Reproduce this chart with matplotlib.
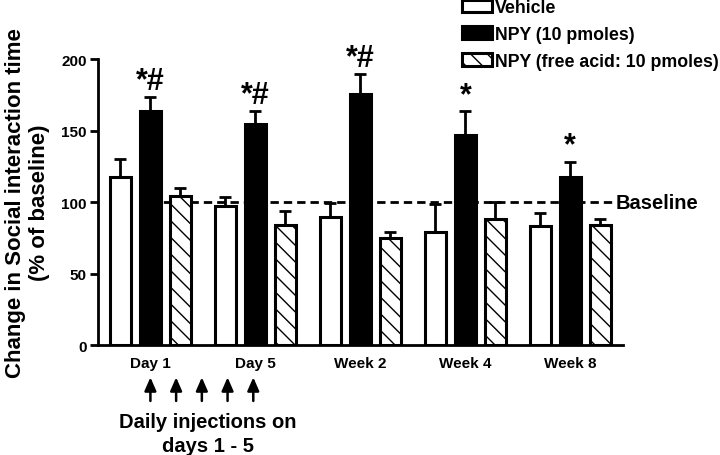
import numpy as np
import matplotlib
matplotlib.use("Agg")
from matplotlib import pyplot as plt
from matplotlib.transforms import blended_transform_factory

plt.rcParams['font.family'] = ['Liberation Sans', 'DejaVu Sans']
plt.rcParams['font.weight'] = 'bold'
plt.rcParams['hatch.linewidth'] = 1.0

# data
groups = ['Day 1', 'Day 5', 'Week 2', 'Week 4', 'Week 8']
series = ['Vehicle', 'NPY (10 pmoles)', 'NPY (free acid: 10 pmoles)']
vehicle = [117.7, 97.0, 89.7, 78.8, 83.4]
vehicle_err = [12.3, 6.7, 9.6, 20.0, 9.1]
npy = [163.8, 154.5, 176.0, 147.0, 117.7]
npy_err = [9.8, 9.1, 13.5, 16.6, 10.5]
free_acid = [104.4, 84.0, 74.6, 87.9, 84.1]
free_acid_err = [5.2, 10.0, 4.2, 12.1, 3.9]
marks = ['*#', '*#', '*#', '*', '*']
baseline = 100
injection_days = [0, 0.245, 0.49, 0.735, 0.98]

fig = plt.figure(figsize=(7.2, 4.56), dpi=100)
ax = fig.add_axes([0.136, 0.241, 0.729, 0.627])

x = np.arange(len(groups))
offset = 0.285
width = 0.2
styles = [dict(color='white', hatch=None),
          dict(color='black', hatch=None),
          dict(color='white', hatch='\\\\')]
values = [vehicle, npy, free_acid]
errors = [vehicle_err, npy_err, free_acid_err]

handles = []
for i in range(3):
    pos = x + (i - 1) * offset
    b = ax.bar(pos, values[i], width, facecolor=styles[i]['color'],
               edgecolor='black', linewidth=2.2, hatch=styles[i]['hatch'],
               zorder=3, label=series[i])
    ax.errorbar(pos, values[i], yerr=[np.zeros(len(groups)), errors[i]],
                fmt='none', ecolor='black', elinewidth=2, capsize=4.5,
                capthick=2, zorder=2)
    handles.append(b)

# significance marks above NPY bars
for xi, v, e, m in zip(x, npy, npy_err, marks):
    ax.text(xi, v + e + 1, m, ha='center', va='bottom', fontsize=22,
            fontweight='bold', clip_on=False)

# baseline
ax.plot([0, 4.41], [baseline, baseline], color='black', lw=2,
        dashes=(3, 1.8), zorder=1, clip_on=False)
ax.text(4.43, baseline, 'Baseline', ha='left', va='center', fontsize=14.5,
        fontweight='bold')

ax.set_xlim(-0.5, 4.5)
ax.set_ylim(0, 200)
ax.set_yticks([0, 50, 100, 150, 200])
ax.set_xticks(x)
ax.set_xticklabels(groups, fontsize=11)
ax.tick_params(axis='y', labelsize=11, width=2, length=6, pad=2)
ax.tick_params(axis='x', length=0, pad=8)
for s in ['top', 'right']:
    ax.spines[s].set_visible(False)
for s in ['left', 'bottom']:
    ax.spines[s].set_linewidth(2)

ax.set_ylabel('Change in Social interaction time\n(% of baseline)',
              fontsize=16, fontweight='bold', linespacing=1.15)
ax.yaxis.set_label_coords(-0.092, 0.5)

# injection arrows
trans = blended_transform_factory(ax.transData, ax.transAxes)
for d in injection_days:
    ax.annotate('', xy=(d, -0.103), xytext=(d, -0.205), xycoords=trans,
                textcoords=trans,
                arrowprops=dict(arrowstyle='-|>,head_length=0.8,head_width=0.35',
                                color='black', lw=1.8))
ax.text(0.55, -0.268, 'Daily injections on', transform=trans, ha='center',
        va='center', fontsize=14.5, fontweight='bold')
ax.text(0.55, -0.35, 'days 1 - 5', transform=trans, ha='center',
        va='center', fontsize=14.5, fontweight='bold')

fig.legend(handles=handles, labels=series, loc='upper left',
           bbox_to_anchor=(0.641, 1.0), frameon=False, fontsize=12.8,
           handlelength=1.7, handleheight=0.7, handletextpad=0.2,
           labelspacing=0.55, borderpad=0, borderaxespad=0)

fig.savefig('out.png', dpi=100)
